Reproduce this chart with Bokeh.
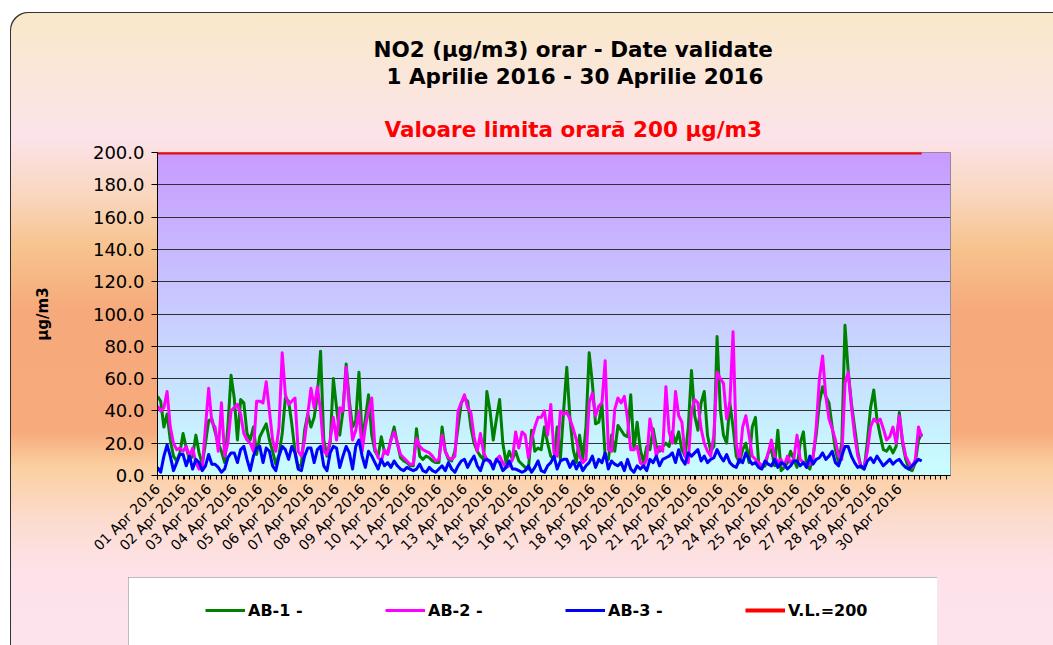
import numpy as np
from math import pi
from bokeh.plotting import figure
from bokeh.layouts import column, row
from bokeh.models import (FixedTicker, NumeralTickFormatter, Legend, LegendItem, Title, Spacer)
from bokeh.embed import file_html
from bokeh.resources import INLINE

# ---------------- data ----------------
day_labels = ["%02d Apr 2016" % d for d in range(1, 31)]
hours = list(range(0, 720, 3))  # sampled every 3 hours, 1 Apr 00:00 .. 30 Apr 21:00

ab1 = [
    49, 46, 30, 38, 22, 12, 9, 14,
    26, 17, 10, 12, 25, 14, 7, 20,
    34, 35, 27, 20, 15, 8, 30, 62,
    48, 22, 47, 45, 26, 22, 30, 13,
    24, 28, 32, 22, 15, 7, 13, 26,
    48, 46, 32, 15, 5, 7, 28, 38,
    30, 36, 50, 77, 22, 12, 20, 60,
    42, 25, 40, 69, 46, 30, 34, 64,
    22, 35, 50, 25, 15, 12, 24, 14,
    14, 22, 30, 20, 11, 9, 8, 6,
    6, 29, 12, 10, 12, 11, 9, 8,
    8, 30, 15, 10, 9, 15, 30, 45,
    48, 46, 30, 20, 15, 12, 10, 52,
    40, 22, 35, 47, 20, 8, 15, 10,
    15, 9, 7, 5, 4, 28, 15, 17,
    16, 30, 20, 12, 10, 30, 10, 40,
    67, 35, 16, 8, 25, 10, 30, 76,
    57, 32, 33, 44, 12, 10, 25, 15,
    31, 28, 25, 24, 50, 16, 33, 16,
    8, 18, 16, 29, 18, 15, 18, 20,
    18, 27, 20, 27, 16, 12, 30, 65,
    37, 28, 45, 52, 25, 15, 18, 86,
    41, 25, 20, 45, 30, 12, 8, 16,
    20, 8, 30, 36, 8, 5, 6, 14,
    16, 6, 28, 3, 5, 8, 15, 10,
    5, 20, 27, 6, 4, 12, 25, 45,
    55, 49, 45, 30, 16, 8, 20, 93,
    65, 45, 30, 15, 5, 4, 21, 42,
    53, 35, 25, 16, 15, 18, 14, 18,
    39, 20, 10, 4, 3, 8, 22, 26,
]

ab2 = [
    43, 40, 42, 52, 30, 20, 16, 17,
    15, 18, 12, 17, 8, 4, 5, 30,
    54, 33, 30, 15, 45, 12, 20, 40,
    42, 44, 38, 26, 22, 20, 15, 46,
    46, 45, 58, 40, 22, 15, 30, 76,
    50, 44, 46, 48, 15, 12, 22, 38,
    54, 42, 55, 40, 15, 13, 22, 36,
    22, 42, 40, 67, 42, 22, 28, 40,
    15, 30, 40, 48, 17, 11, 9, 16,
    13, 22, 27, 20, 13, 11, 9, 7,
    7, 23, 18, 16, 15, 14, 12, 9,
    10, 25, 15, 11, 10, 12, 40, 45,
    50, 42, 39, 24, 15, 26, 14, 10,
    8, 6, 10, 12, 8, 5, 6, 10,
    27, 17, 27, 25, 11, 22, 30, 36,
    36, 40, 25, 44, 14, 12, 40, 38,
    39, 35, 29, 22, 12, 8, 10, 45,
    51, 37, 43, 45, 71, 16, 15, 41,
    48, 45, 49, 35, 16, 16, 18, 8,
    6, 10, 35, 25, 12, 18, 15, 55,
    27, 20, 52, 37, 33, 12, 8, 40,
    47, 45, 29, 20, 15, 12, 25, 64,
    60, 57, 35, 45, 89, 20, 9, 30,
    37, 25, 12, 10, 8, 6, 8, 14,
    22, 12, 8, 10, 6, 12, 8, 10,
    25, 10, 8, 6, 7, 10, 30, 60,
    74, 49, 35, 29, 22, 12, 10, 57,
    64, 43, 25, 12, 6, 5, 15, 30,
    35, 33, 35, 29, 22, 24, 30, 20,
    37, 22, 12, 8, 5, 10, 30, 24,
]

ab3 = [
    5, 2, 12, 19, 12, 3, 8, 13,
    13, 6, 12, 4, 10, 8, 3, 6,
    13, 7, 7, 5, 2, 4, 11, 14,
    14, 8, 16, 18, 10, 3, 12, 17,
    18, 8, 17, 15, 6, 3, 12, 18,
    16, 10, 18, 14, 4, 3, 12, 17,
    17, 8, 16, 18, 6, 3, 14, 18,
    17, 5, 12, 18, 14, 4, 18, 22,
    12, 5, 15, 12, 8, 4, 10, 6,
    8, 5, 9, 6, 4, 3, 5, 4,
    3, 4, 7, 3, 2, 5, 3, 2,
    4, 6, 3, 8, 4, 2, 6, 9,
    10, 5, 9, 12, 6, 3, 9, 10,
    9, 4, 10, 8, 3, 5, 9, 4,
    4, 3, 2, 3, 6, 2, 5, 9,
    3, 2, 6, 8, 12, 4, 9, 10,
    10, 5, 9, 4, 8, 3, 6, 8,
    12, 5, 10, 8, 14, 4, 9, 7,
    6, 8, 3, 10, 4, 2, 6, 4,
    6, 3, 10, 8, 12, 6, 10, 11,
    12, 14, 8, 16, 10, 7, 14, 12,
    14, 16, 9, 12, 8, 10, 11, 16,
    12, 9, 13, 8, 6, 5, 10, 8,
    14, 10, 7, 8, 5, 4, 9, 7,
    6, 10, 5, 8, 7, 4, 6, 9,
    9, 6, 8, 5, 12, 7, 10, 11,
    14, 10, 12, 15, 8, 6, 12, 18,
    18, 12, 8, 5, 6, 4, 9, 11,
    8, 12, 9, 6, 8, 10, 7, 9,
    10, 7, 5, 4, 6, 8, 10, 9,
]

limit_value = 200
vl = [limit_value] * len(hours)

y_ticks = [0, 20, 40, 60, 80, 100, 120, 140, 160, 180, 200]
series_names = ["AB-1 -", "AB-2 -", "AB-3 -", "V.L.=200"]
series_colors = ["#008000", "#ff00ff", "#0000ff", "#ff0000"]
series_values = [ab1, ab2, ab3, vl]
series_widths = [3, 3, 3, 4]
X_END = 744  # axis spans 31 day-slots of 24 h
Y_END = 200

# ---------------- main figure ----------------
p = figure(width=1043, height=565, x_range=(0, X_END), y_range=(0, Y_END),
           output_backend="svg", toolbar_location=None,
           min_border_left=147, min_border_right=103,
           min_border_top=140, min_border_bottom=102)
p.border_fill_alpha = 0
p.background_fill_alpha = 0
p.outline_line_color = "#808080"

# plot-area gradient (lavender at top -> light cyan at bottom)
n = 323
t = np.linspace(0.0, 1.0, n)
img = np.empty((n, 1), dtype=np.uint32)
view = img.view(dtype=np.uint8).reshape((n, 1, 4))
view[:, 0, 0] = 200
view[:, 0, 1] = (255 - 100 * t).astype(np.uint8)
view[:, 0, 2] = 255
view[:, 0, 3] = 255
bg = p.image_rgba(image=[img], x=0, y=0, dw=X_END, dh=Y_END)
bg.level = "image"

for vals, col, lw in zip(series_values, series_colors, series_widths):
    p.line(hours, vals, line_color=col, line_width=lw, line_join="round")

# grid
p.xgrid.visible = False
p.ygrid.ticker = FixedTicker(ticks=y_ticks)
p.ygrid.grid_line_color = "#303030"
p.ygrid.grid_line_width = 1

# x axis
xa = p.xaxis[0]
xa.ticker = FixedTicker(ticks=[24 * i for i in range(len(day_labels))],
                        minor_ticks=list(range(0, X_END + 1, 5)))
xa.major_label_overrides = {24 * i: lab for i, lab in enumerate(day_labels)}
xa.major_label_orientation = pi / 4
xa.major_label_text_font = "DejaVu Sans"
xa.major_label_text_font_size = "14px"
xa.major_label_text_color = "#000000"
xa.major_label_standoff = 7
xa.major_tick_out = 4
xa.major_tick_in = 0
xa.minor_tick_out = 4
xa.minor_tick_in = 0
xa.major_tick_line_color = "#000000"
xa.minor_tick_line_color = "#000000"
xa.axis_line_color = "#000000"

# y axis
ya = p.yaxis[0]
ya.ticker = FixedTicker(ticks=y_ticks)
ya.formatter = NumeralTickFormatter(format="0.0")
ya.major_label_text_font = "DejaVu Sans"
ya.major_label_text_font_size = "18px"
ya.major_label_text_color = "#000000"
ya.major_label_standoff = 7
ya.major_tick_out = 6
ya.major_tick_in = 0
ya.minor_tick_line_color = None
ya.axis_line_color = "#000000"
ya.axis_label = "µg/m3"
ya.axis_label_text_font = "DejaVu Sans"
ya.axis_label_text_font_style = "bold"
ya.axis_label_text_font_size = "15px"
ya.axis_label_text_color = "#000000"
ya.axis_label_standoff = 38

# titles: p.title is outermost, added titles sit nearer the frame
def style_title(tt, color, off, standoff):
    tt.align = "left"
    tt.text_color = color
    tt.text_font = "DejaVu Sans"
    tt.text_font_size = "21.5px"
    tt.text_font_style = "bold"
    tt.offset = off
    tt.standoff = standoff

p.title.text = "NO2 (µg/m3) orar - Date validate"
style_title(p.title, "#000000", 216, -28)

line2 = Title(text="1 Aprilie 2016 - 30 Aprilie 2016")
style_title(line2, "#000000", 229, 29)
sub_title = Title(text="Valoare limita orară  200 µg/m3")
style_title(sub_title, "#ff0000", 227, 22)
p.add_layout(sub_title, "above")
p.add_layout(line2, "above")

# ---------------- legend box (own small figure) ----------------
lf = figure(width=809, height=68, x_range=(0, 1), y_range=(-2, -1),
            output_backend="svg", toolbar_location=None,
            x_axis_type=None, y_axis_type=None,
            min_border=0, min_border_left=0, min_border_right=0,
            min_border_top=0, min_border_bottom=0)
lf.xgrid.visible = False
lf.ygrid.visible = False
lf.outline_line_color = None
lf.background_fill_color = "#ffffff"
lf.border_fill_color = "#ffffff"
lf.styles = {"box-shadow": "inset 2px 2px 0 0 #7a7a7a, inset -2px 0 0 0 #7a7a7a"}

items = []
for name, vals, col, lw in zip(series_names, series_values, series_colors, series_widths):
    # same series, drawn out of this box's view: only the legend swatch shows
    rr = lf.line(hours, vals, line_color=col, line_width=lw)
    items.append(LegendItem(label=name, renderers=[rr]))
legend = Legend(items=items, orientation="horizontal", location=(77, 25),
                glyph_width=40, glyph_height=20, label_standoff=3,
                label_width=137, spacing=0, padding=0, margin=0,
                border_line_alpha=0, background_fill_alpha=0,
                label_text_font="DejaVu Sans", label_text_font_style="bold",
                label_text_font_size="16px", label_text_color="#000000")
lf.add_layout(legend)

outer_bg = (
    "linear-gradient(to bottom, #fae8ca 0px, #fbe6de 80px, #fce3ea 125px, "
    "#f9d6bd 185px, #f7c38e 235px, #f6a97b 300px, #f7ab7c 420px, "
    "#fbcfa1 455px, #fcdcd0 510px, #fde2ea 560px, #fde3ec 633px)"
)

layout = column(p, row(Spacer(width=118, height=68), lf))
layout.styles = {
    "margin-left": "10px",
    "margin-top": "12px",
    "background": outer_bg,
    "border-top-left-radius": "18px",
    "box-shadow": "inset 1px 1px 0 0 #333333",
}

open("out.html", "w").write(file_html(layout, INLINE))
